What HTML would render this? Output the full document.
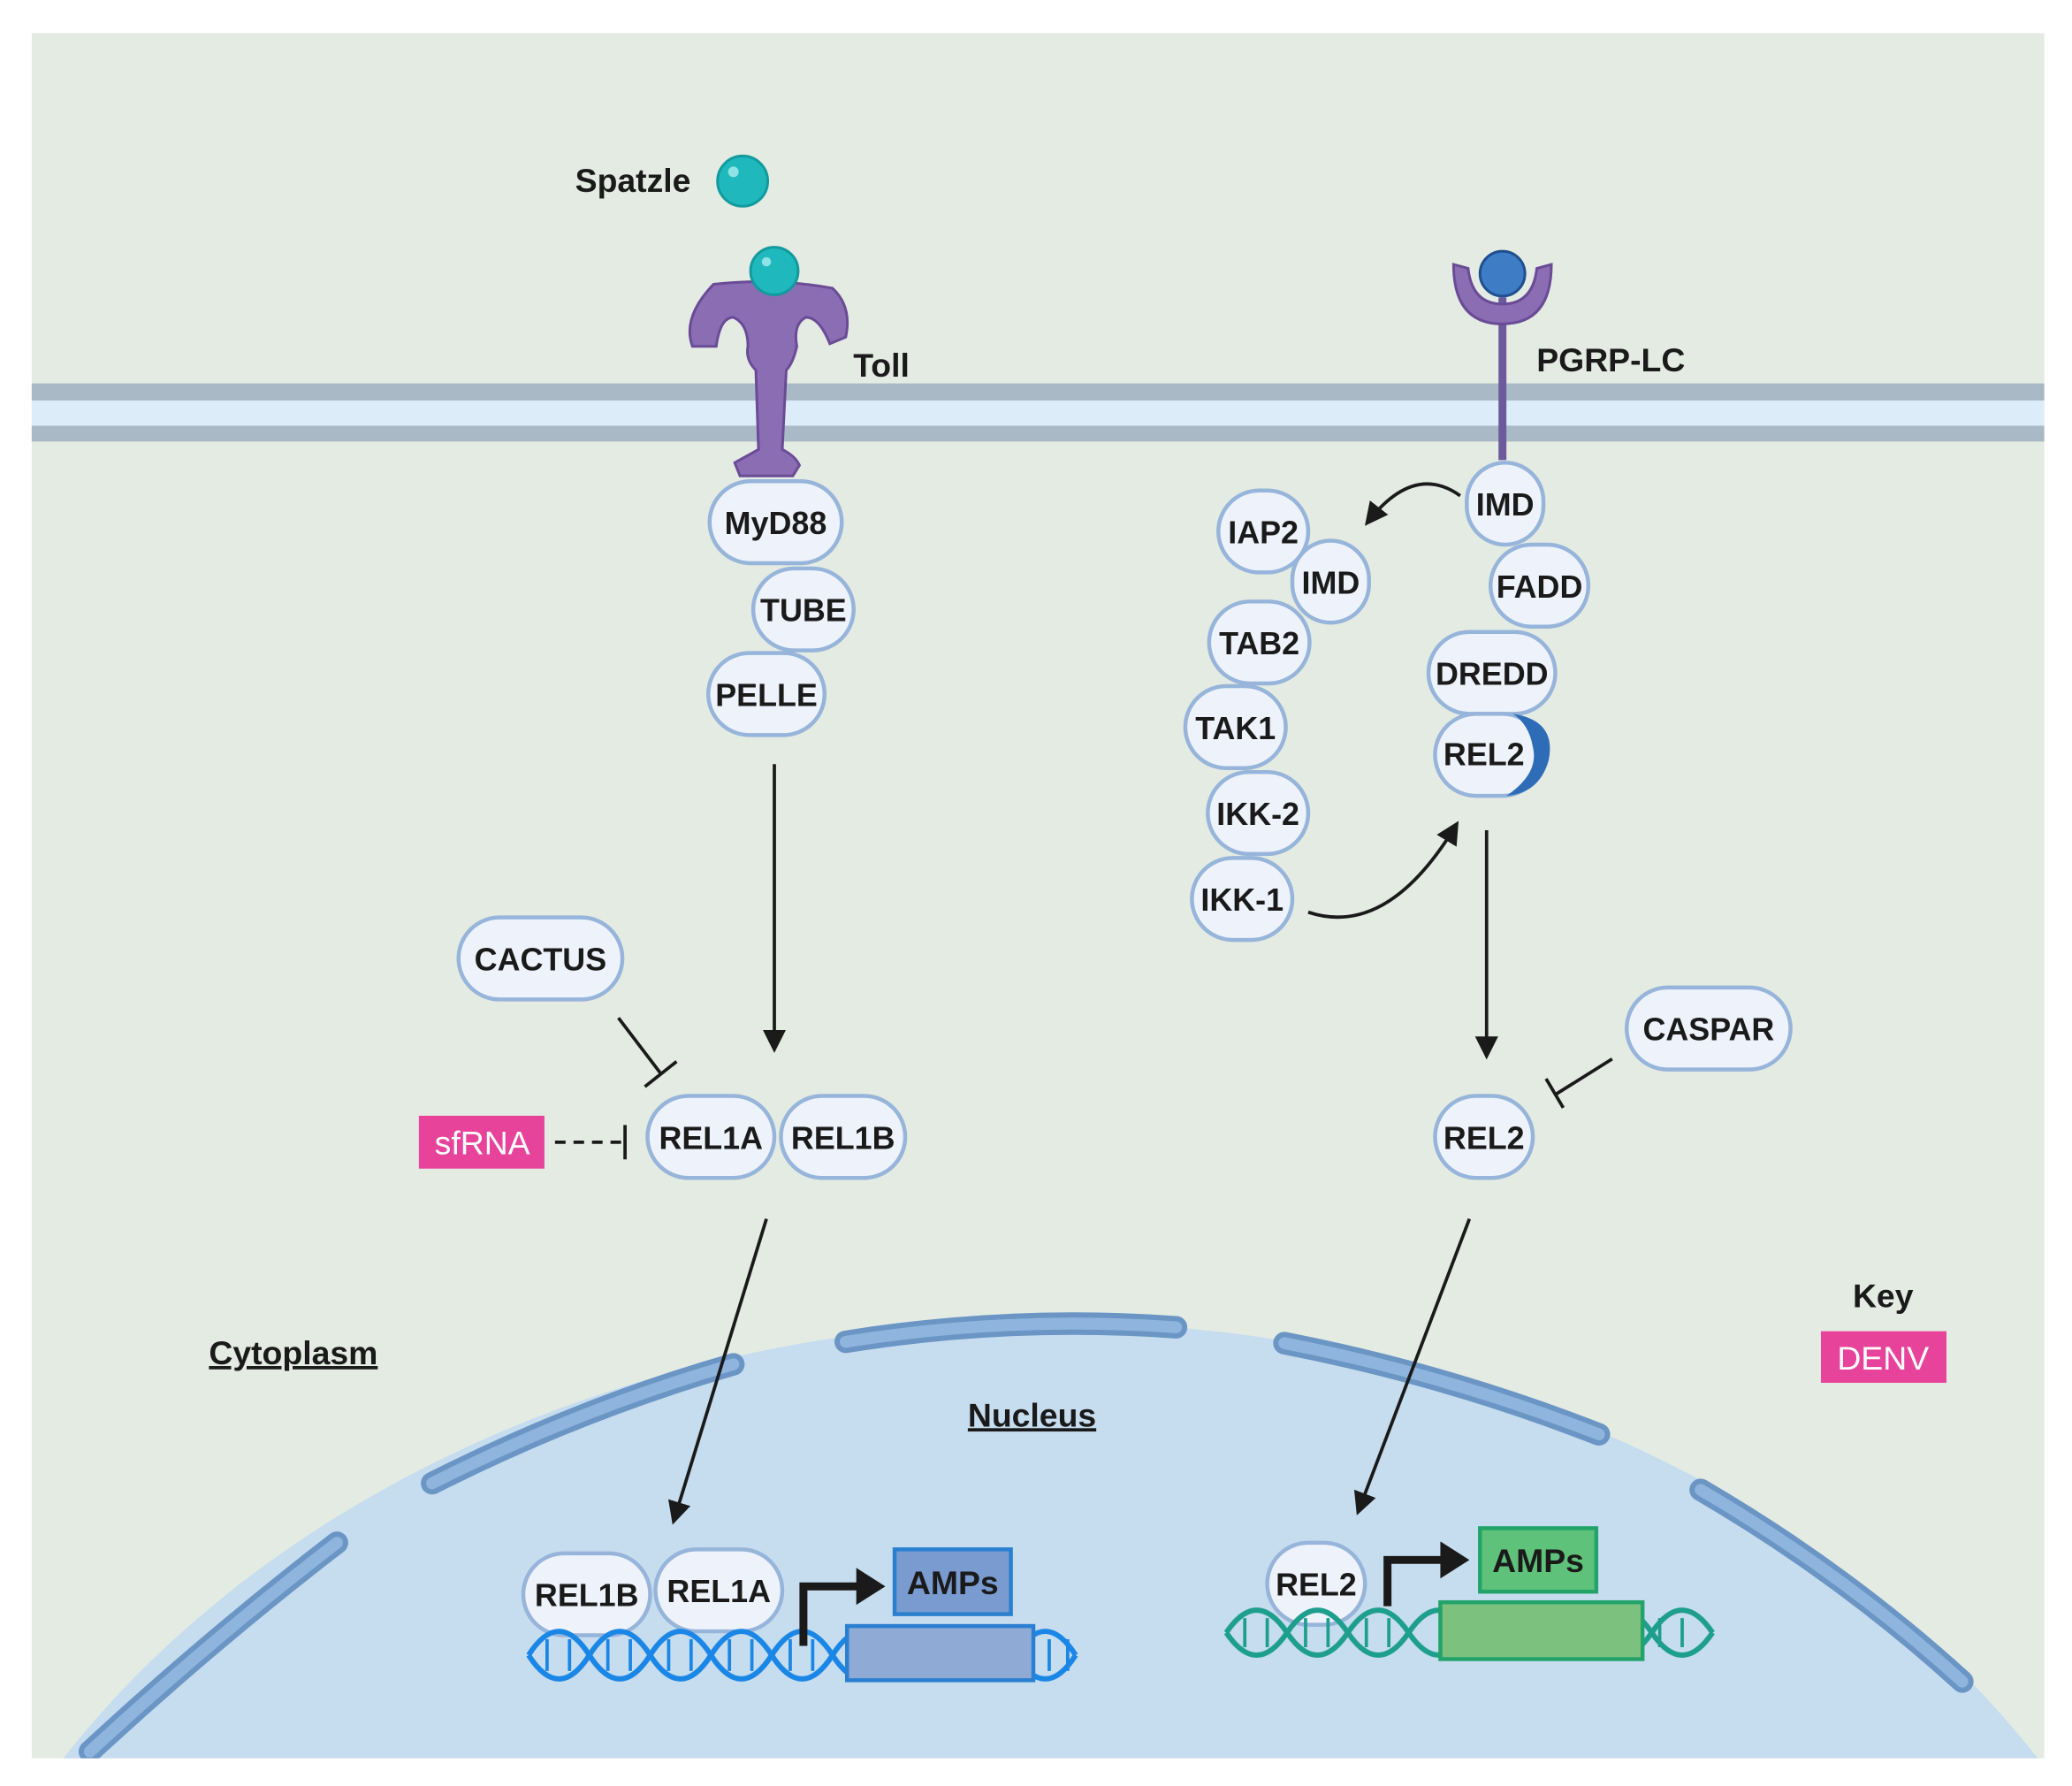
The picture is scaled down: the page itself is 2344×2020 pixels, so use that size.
<!DOCTYPE html>
<html><head><meta charset="utf-8"><style>
html,body{margin:0;padding:0;background:#fff;width:2344px;height:2020px;overflow:hidden;}
svg{display:block;}
text{font-family:"Liberation Sans",sans-serif;font-weight:bold;fill:#1a1a1a;}
</style></head><body>
<svg width="2344" height="2020" viewBox="0 0 1568 1351" preserveAspectRatio="none" xmlns="http://www.w3.org/2000/svg">
<defs>
<marker id="ah" viewBox="0 0 10 10" refX="8" refY="5" markerWidth="7" markerHeight="7" orient="auto-start-reverse"><path d="M0,0 L10,5 L0,10 z" fill="#1a1a1a"/></marker>
<clipPath id="pc"><rect x="24" y="25" width="1523" height="1305"/></clipPath>
</defs>
<rect width="1568" height="1351" fill="#fff"/>
<rect x="24" y="25" width="1523" height="1305" fill="#e4ebe3"/>
<g clip-path="url(#pc)">
<ellipse cx="795" cy="1700" rx="880" ry="700" fill="#c6dcef"/>
<g fill="none" stroke-linecap="round">
<g stroke="#6a95c4" stroke-width="17">
<path d="M68 1325 Q160 1240 255 1167"/><path d="M327 1122 Q440 1065 555 1032"/><path d="M640 1015 Q765 995 890 1004"/><path d="M972 1016 Q1095 1040 1210 1085"/><path d="M1287 1127 Q1395 1190 1485 1272"/>
</g>
<g stroke="#8fb5de" stroke-width="9">
<path d="M68 1325 Q160 1240 255 1167"/><path d="M327 1122 Q440 1065 555 1032"/><path d="M640 1015 Q765 995 890 1004"/><path d="M972 1016 Q1095 1040 1210 1085"/><path d="M1287 1127 Q1395 1190 1485 1272"/>
</g></g>
</g>
<rect x="24" y="290" width="1523" height="13" fill="#a9bac6"/>
<rect x="24" y="303" width="1523" height="19" fill="#dcedf9"/>
<rect x="24" y="322" width="1523" height="12" fill="#a9bac6"/>

<text x="479" y="145" font-size="25" text-anchor="middle">Spatzle</text>
<circle cx="562" cy="137" r="19" fill="#1fb9bd" stroke="#129a9e" stroke-width="2"/>
<circle cx="555" cy="130" r="4" fill="#8fe3e6"/>
<g fill="#8a6db3" stroke="#6a4b96" stroke-width="2">
<path d="M540 215 Q585 210 630 218 Q645 232 640 255 L628 260 Q620 240 610 240 Q600 245 603 262 Q600 275 595 280 L592 340 Q602 345 605 352 L600 360 L560 360 L556 350 Q565 345 574 340 L572 280 Q564 272 566 262 Q566 245 555 240 Q545 240 542 262 L524 262 Q516 240 540 215 Z"/>
</g>
<circle cx="586" cy="205" r="18" fill="#1fb9bd" stroke="#129a9e" stroke-width="2"/>
<circle cx="580" cy="198" r="3.5" fill="#8fe3e6"/>
<text x="667" y="285" font-size="25" text-anchor="middle">Toll</text>
<line x1="1137" y1="225" x2="1137" y2="348" stroke="#6c5a9c" stroke-width="6"/>
<path d="M1100 200 Q1100 245 1137 245 Q1174 245 1174 200 L1163 203 Q1160 230 1137 230 Q1114 230 1111 203 Z" fill="#8a6db3" stroke="#6a4b96" stroke-width="2"/>
<circle cx="1137" cy="207" r="17" fill="#3e7dc6" stroke="#1f4f8d" stroke-width="2"/>
<text x="1219" y="281" font-size="25" text-anchor="middle">PGRP-LC</text>

<g fill="#eef3fb" stroke="#97b4da" stroke-width="3">
<rect x="537" y="364" width="100" height="62" rx="31"/>
<rect x="570" y="430" width="76" height="62" rx="31"/>
<rect x="536" y="494" width="88" height="62" rx="31"/>
<rect x="347" y="694" width="124" height="62" rx="31"/>
<rect x="490" y="829" width="96" height="62" rx="31"/>
<rect x="591" y="829" width="94" height="62" rx="31"/>
<rect x="922" y="371" width="68" height="62" rx="31"/>
<rect x="978" y="409" width="58" height="62" rx="29"/>
<rect x="915" y="455" width="76" height="62" rx="31"/>
<rect x="897" y="519" width="76" height="62" rx="31"/>
<rect x="914" y="584" width="76" height="62" rx="31"/>
<rect x="902" y="649" width="76" height="62" rx="31"/>
<rect x="1110" y="350" width="58" height="62" rx="29"/>
<rect x="1128" y="412" width="74" height="62" rx="31"/>
<rect x="1081" y="478" width="96" height="62" rx="31"/>
<rect x="1231" y="747" width="124" height="62" rx="31"/>
<rect x="1086" y="829" width="74" height="62" rx="31"/>
<rect x="396" y="1175" width="96" height="62" rx="31"/>
<rect x="496" y="1172" width="96" height="62" rx="31"/>
<rect x="959" y="1167" width="74" height="62" rx="31"/>
</g>
<rect x="1086" y="540" width="82" height="62" rx="31" fill="#eef3fb" stroke="#97b4da" stroke-width="3"/>
<path d="M1145 540 Q1178 545 1172 575 Q1165 600 1140 602 Q1165 585 1160 565 Q1157 548 1145 540 Z" fill="#2f6cb8"/>

<g font-size="24" text-anchor="middle">
<text x="587" y="404">MyD88</text>
<text x="608" y="470">TUBE</text>
<text x="580" y="534">PELLE</text>
<text x="409" y="734">CACTUS</text>
<text x="538" y="869">REL1A</text>
<text x="638" y="869">REL1B</text>
<text x="956" y="411">IAP2</text>
<text x="1007" y="449">IMD</text>
<text x="953" y="495">TAB2</text>
<text x="935" y="559">TAK1</text>
<text x="952" y="624">IKK-2</text>
<text x="940" y="689">IKK-1</text>
<text x="1139" y="390">IMD</text>
<text x="1165" y="452">FADD</text>
<text x="1129" y="518">DREDD</text>
<text x="1123" y="579">REL2</text>
<text x="1293" y="787">CASPAR</text>
<text x="1123" y="869">REL2</text>
<text x="444" y="1215">REL1B</text>
<text x="544" y="1212">REL1A</text>
<text x="996" y="1207">REL2</text>
</g>

<rect x="317" y="844" width="95" height="40" fill="#e8439b"/>
<text x="365" y="873" font-size="25" text-anchor="middle" style="fill:#fff;font-weight:normal">sfRNA</text>
<rect x="1378" y="1007" width="95" height="39" fill="#e8439b"/>
<text x="1425" y="1036" font-size="25" text-anchor="middle" style="fill:#fff;font-weight:normal">DENV</text>
<text x="1425" y="989" font-size="25" text-anchor="middle">Key</text>
<text x="222" y="1032" font-size="25" text-anchor="middle" text-decoration="underline">Cytoplasm</text>
<text x="781" y="1079" font-size="25" text-anchor="middle" text-decoration="underline">Nucleus</text>

<g stroke="#1a1a1a" stroke-width="2.5" fill="none">
<line x1="586" y1="578" x2="586" y2="793" marker-end="url(#ah)"/>
<line x1="1125" y1="628" x2="1125" y2="798" marker-end="url(#ah)"/>
<line x1="580" y1="922" x2="510" y2="1150" marker-end="url(#ah)"/>
<line x1="1112" y1="922" x2="1028" y2="1143" marker-end="url(#ah)"/>
<path d="M1105 375 Q1070 350 1035 395" marker-end="url(#ah)"/>
<path d="M990 690 Q1050 710 1102 624" marker-end="url(#ah)"/>
<line x1="468" y1="770" x2="500" y2="812"/>
<line x1="488" y1="822" x2="512" y2="803"/>
<line x1="420" y1="864" x2="470" y2="864" stroke-dasharray="8,6"/>
<line x1="473" y1="851" x2="473" y2="877"/>
<line x1="1220" y1="801" x2="1177" y2="828"/>
<line x1="1170" y1="816" x2="1183" y2="838"/>
</g>

<g fill="none" stroke="#1a86e6" stroke-width="4">
<path d="M400 1252 q23 -36 46 0 t46 0 t46 0 t46 0 t46 0 t46 0 t46 0 t46 0 t46 0"/>
<path d="M400 1252 q23 36 46 0 t46 0 t46 0 t46 0 t46 0 t46 0 t46 0 t46 0 t46 0"/>
<g stroke-width="2.5"><path d="M414 1240v24M431 1240v24M460 1240v24M477 1240v24M506 1240v24M523 1240v24M552 1240v24M569 1240v24M598 1240v24M615 1240v24M794 1240v24M808 1240v24"/></g>
</g>
<rect x="641" y="1230" width="141" height="41" fill="#8eaad5" stroke="#2a7fd0" stroke-width="3"/>
<rect x="677" y="1172" width="88" height="49" fill="#7a9bd0" stroke="#2a7fd0" stroke-width="3"/>
<text x="721" y="1206" font-size="25" text-anchor="middle">AMPs</text>
<path d="M608 1245 V1200 H650" fill="none" stroke="#1a1a1a" stroke-width="6"/>
<path d="M648 1186 L670 1200 L648 1214 Z" fill="#1a1a1a"/>

<g fill="none" stroke="#1e9f8e" stroke-width="4">
<path d="M928 1235 q23 -34 46 0 t46 0 t46 0 t46 0 t46 0 t46 0 t46 0 t46 0"/>
<path d="M928 1235 q23 34 46 0 t46 0 t46 0 t46 0 t46 0 t46 0 t46 0 t46 0"/>
<g stroke-width="2.5"><path d="M942 1224v22M959 1224v22M988 1224v22M1005 1224v22M1034 1224v22M1051 1224v22M1256 1224v22M1273 1224v22"/></g>
</g>
<rect x="1090" y="1212" width="153" height="43" fill="#7cc27e" stroke="#23a36a" stroke-width="3"/>
<rect x="1120" y="1156" width="88" height="48" fill="#5fc27a" stroke="#23a36a" stroke-width="3"/>
<text x="1164" y="1189" font-size="25" text-anchor="middle">AMPs</text>
<path d="M1050 1215 V1180 H1092" fill="none" stroke="#1a1a1a" stroke-width="6"/>
<path d="M1090 1166 L1112 1180 L1090 1194 Z" fill="#1a1a1a"/>
</svg>
</body></html>
